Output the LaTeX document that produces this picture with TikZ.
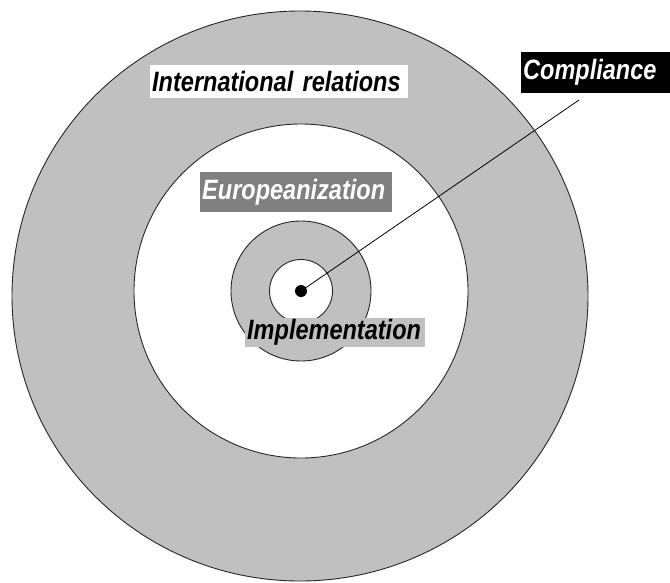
\documentclass[tikz,border=0pt]{standalone}
\usepackage{fontspec}
\usepackage{xcolor}
\setmainfont{Liberation Sans}
\newfontfamily\ringfont[FakeStretch=0.84]{Liberation Sans}
\usetikzlibrary{positioning}
\definecolor{ringgray}{HTML}{C0C0C0}
\definecolor{boxgray}{HTML}{808080}

\begin{document}
\begin{tikzpicture}[
    x=1pt, y=-1pt,
    ring/.style={draw=black!85, line width=0.9pt},
    ringlabel/.style={anchor=west, inner xsep=2pt, inner ysep=0pt, align=left, font=\ringfont\fontsize{28}{28}\selectfont\bfseries\itshape}
]
    \useasboundingbox (0,0) rectangle (670,582);

    % Rings
    \coordinate (centre) at (301,291);
    \draw[ring, fill=ringgray] (300,296) ellipse [x radius=288, y radius=285];
    \draw[ring, fill=white] (centre) circle [radius=167];
    \draw[ring, fill=ringgray] (centre) circle [radius=70];
    \draw[ring, fill=white] (centre) circle [radius=31.5];

    % Pointer
    \node[circle, fill=black, inner sep=0pt, minimum size=12pt] (dot) at (centre) {};
    \coordinate (tip) at (579,100);
    \draw[line width=0.8pt] (dot.center) -- (tip);

    % Labels
    \node[ringlabel, fill=white, text width=254, minimum height=33] (intrel) at (150,81.5) {International relations};
    \node[ringlabel, fill=black, text=white, text width=147, minimum height=41] (compliance) at (521,72.5) {Compliance};
    \node[ringlabel, fill=boxgray, text=white, text width=188, minimum height=40] (europe) at (200,192) {Europeanization};
    \node[ringlabel, fill=ringgray, text width=176, minimum height=29] (implement) at (245,332.5) {Implementation};
\end{tikzpicture}
\end{document}
